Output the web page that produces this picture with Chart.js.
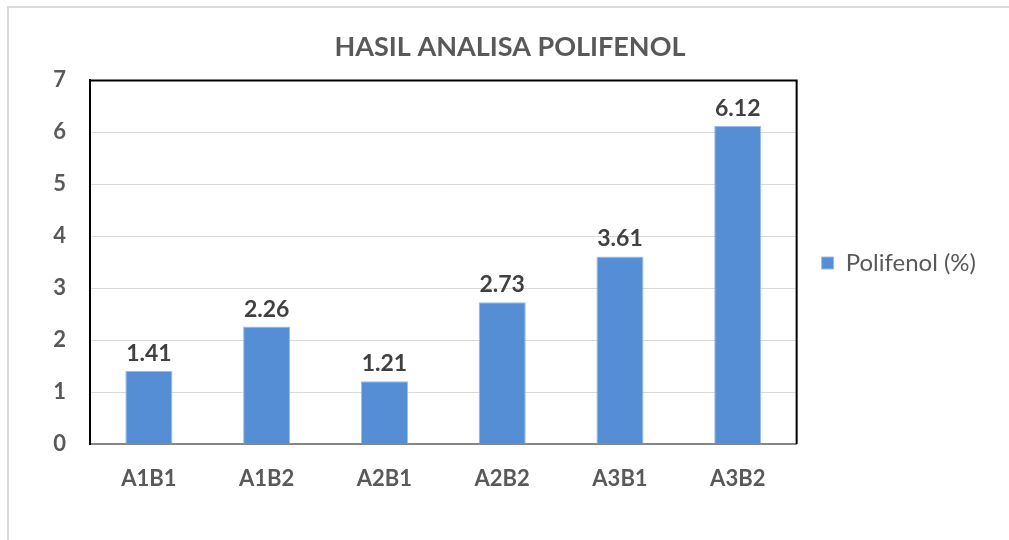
<!DOCTYPE html>
<html>
<head>
<meta charset="utf-8">
<script src="https://cdn.jsdelivr.net/npm/chart.js@4/dist/chart.umd.min.js"></script>
<style>
  html, body { margin: 0; padding: 0; background: #fff; }
  #frame { position: absolute; left: 7px; top: 6px; width: 1020px; height: 560px; border: 2px solid #d9d9d9; box-sizing: border-box; }
  #wrap { position: absolute; left: 0; top: 0; width: 1009px; height: 540px; }
</style>
</head>
<body>
<div id="frame"></div>
<div id="wrap"><canvas id="myChart" width="1009" height="540"></canvas></div>
<script>
const categories = ["A1B1", "A1B2", "A2B1", "A2B2", "A3B1", "A3B2"];
const polifenol = [1.41, 2.26, 1.21, 2.73, 3.61, 6.12];
const yTicks = [0, 1, 2, 3, 4, 5, 6, 7];

const FONT = "Lato, 'Open Sans', sans-serif";

// value labels above the bars + top/right frame of the plot area
const barLabels = {
  id: "barLabels",
  afterDatasetsDraw(chart) {
    const ctx = chart.ctx;
    const meta = chart.getDatasetMeta(0);
    ctx.save();
    ctx.font = "bold 23px " + FONT;
    ctx.fillStyle = "#404040";
    ctx.textAlign = "center";
    ctx.textBaseline = "alphabetic";
    meta.data.forEach((bar, i) => {
      ctx.fillText(polifenol[i].toFixed(2), bar.x, bar.y - 10);
    });
    const a = chart.chartArea;
    ctx.strokeStyle = "#000";
    ctx.lineWidth = 2;
    ctx.beginPath();
    ctx.moveTo(a.left, a.top);
    ctx.lineTo(a.right, a.top);
    ctx.lineTo(a.right, a.bottom);
    ctx.stroke();
    ctx.restore();
  }
};

new Chart(document.getElementById("myChart"), {
  type: "bar",
  data: {
    labels: categories,
    datasets: [{
      label: "Polifenol (%)",
      data: polifenol,
      backgroundColor: "#558ed5",
      borderColor: "#9dbbe6",
      borderWidth: 1,
      categoryPercentage: 1,
      barPercentage: 0.4
    }]
  },
  options: {
    responsive: false,
    animation: false,
    layout: { padding: { left: 34, right: 23, top: 0, bottom: 14 } },
    plugins: {
      title: {
        display: true,
        text: "HASIL ANALISA POLIFENOL",
        color: "#595959",
        font: { family: FONT, size: 27, weight: "bold" },
        padding: { top: 31, bottom: 17 }
      },
      legend: {
        position: "right",
        labels: {
          color: "#595959",
          font: { family: FONT, size: 24 },
          boxWidth: 12,
          boxHeight: 12,
          padding: 25
        }
      },
      tooltip: { enabled: false }
    },
    scales: {
      x: {
        grid: { display: false, drawTicks: false },
        border: { color: "#868686", width: 2 },
        ticks: {
          color: "#595959",
          font: { family: FONT, size: 22, weight: "bold" },
          padding: 22
        },
        afterFit(scale) { scale.height = 82; }
      },
      y: {
        min: 0,
        max: 7,
        grid: { color: "#d9d9d9", lineWidth: 1, drawTicks: false },
        border: { color: "#000", width: 2 },
        afterBuildTicks(scale) { scale.ticks = yTicks.map(v => ({ value: v })); },
        ticks: {
          color: "#595959",
          font: { family: FONT, size: 22, weight: "bold" },
          padding: 24
        },
        afterFit(scale) { scale.width = 56; }
      }
    }
  },
  plugins: [barLabels]
});
</script>
</body>
</html>
